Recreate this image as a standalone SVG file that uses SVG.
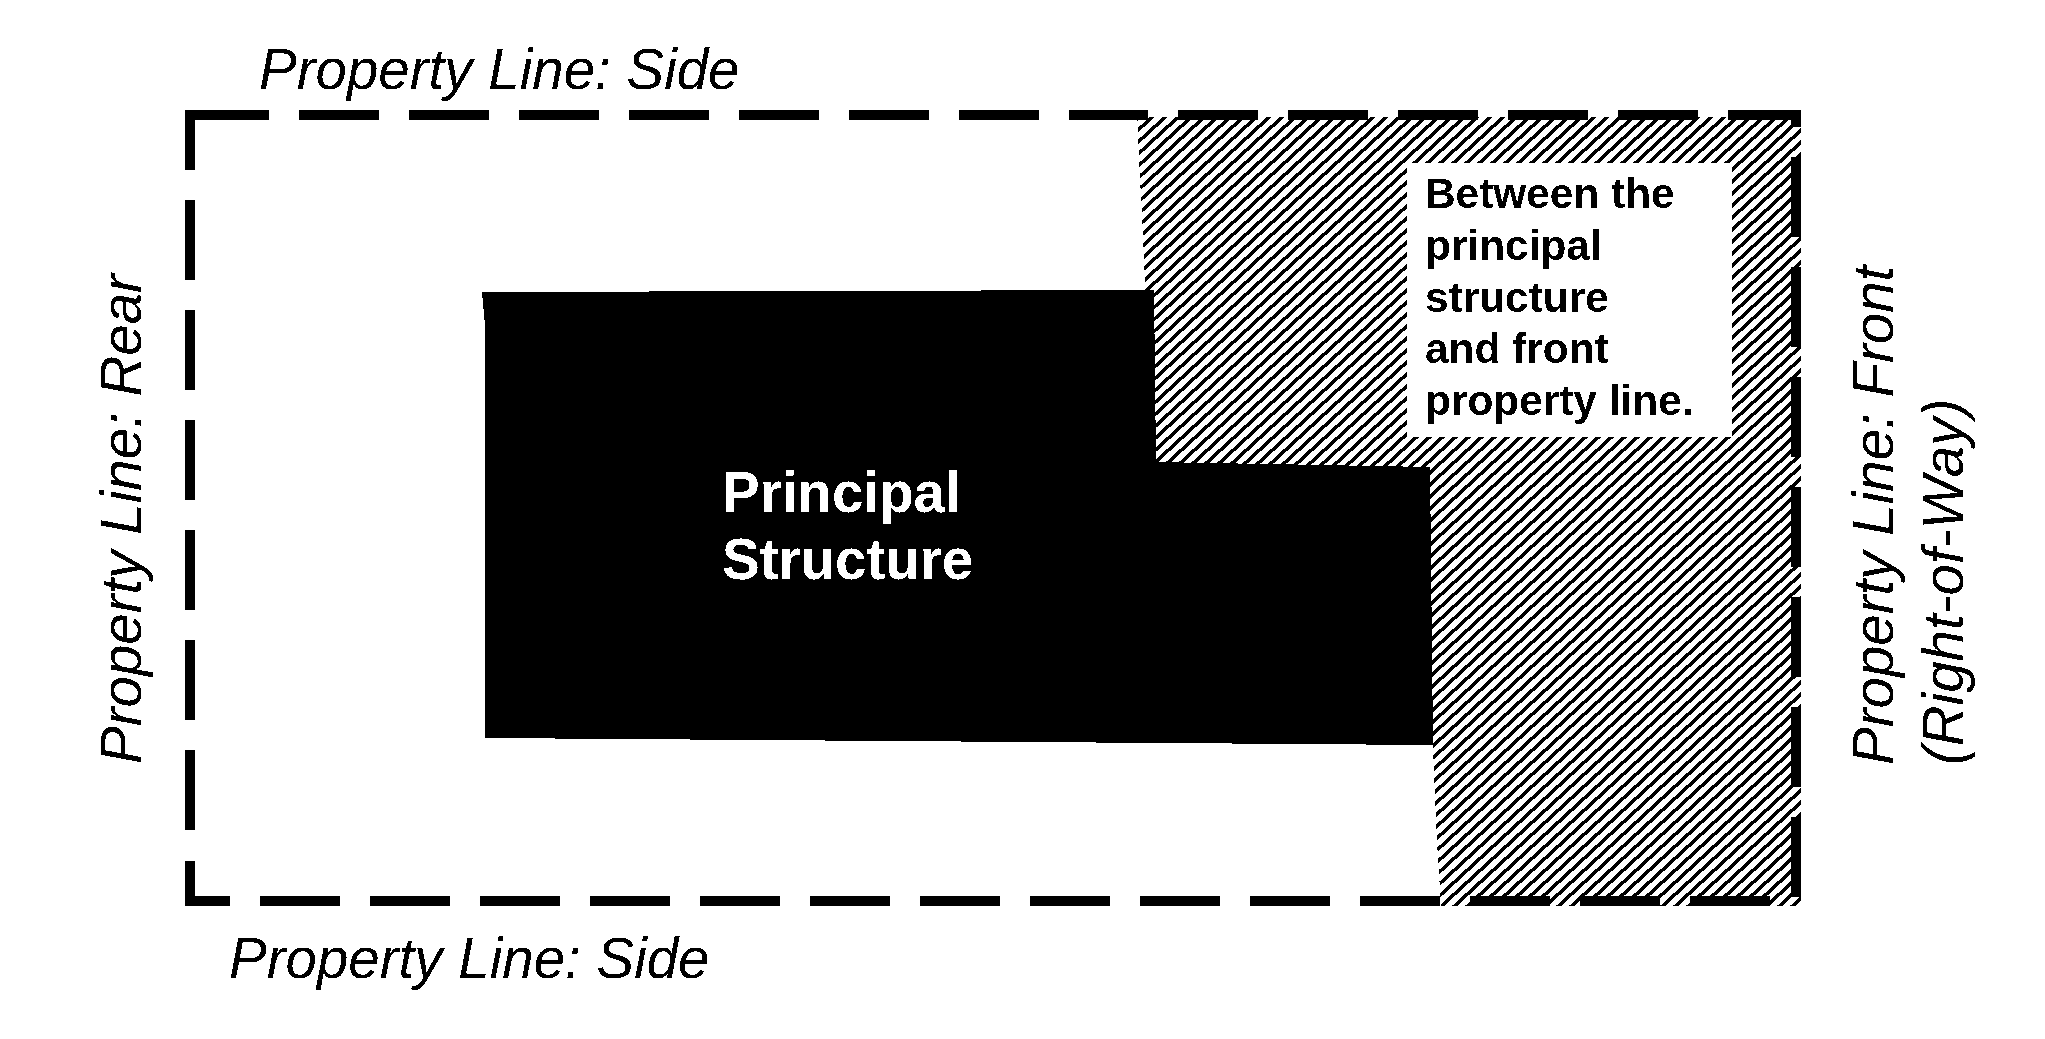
<svg xmlns="http://www.w3.org/2000/svg" width="2045" height="1039" viewBox="0 0 2045 1039">
  <style>
    .shape { shape-rendering: crispEdges; }
    .line { fill: none; stroke: #000; stroke-width: 10; shape-rendering: crispEdges; }
    .lbl { font-family: "Liberation Sans", Arial, sans-serif; font-size: 56.5px; font-style: italic; fill: #000; filter: url(#bin); }
    .bold { font-family: "Liberation Sans", Arial, sans-serif; font-weight: bold; filter: url(#bin); }
  </style>
  <defs>
    <pattern id="hatch" x="5" y="0" width="13" height="12" patternUnits="userSpaceOnUse">
      <path d="M-6.5,6 L6.5,-6 M-6.5,18 L19.5,-6 M6.5,18 L19.5,6" stroke="#000" stroke-width="3.5" fill="none" shape-rendering="crispEdges"/>
    </pattern>
    <filter id="bin" x="-5%" y="-20%" width="110%" height="140%" color-interpolation-filters="sRGB">
      <feComponentTransfer><feFuncA type="discrete" tableValues="0 1"/></feComponentTransfer>
    </filter>
  </defs>
  <rect width="2045" height="1039" fill="#fff"/>
  <g id="front-yard-area">
    <polygon class="shape" fill="url(#hatch)" points="1137,117 1801,117 1801,906 1441,906 1436,825 1433,745 1430,467 1156,462 1146,300"/>
  </g>
  <g id="principal-structure">
    <polygon class="shape" fill="#000" points="482,292 1154,290 1156,462 1430,467 1433,745 485,738 485,325"/>
    <text class="bold" fill="#fff" font-size="56.5" x="722" y="512">Principal</text>
    <text class="bold" fill="#fff" font-size="56.5" x="722" y="579">Structure</text>
  </g>
  <g id="front-yard-note">
    <rect class="shape" fill="#fff" x="1407" y="163" width="325" height="274"/>
    <text class="bold" fill="#000" font-size="42.4" x="1425" y="208">Between the</text>
    <text class="bold" fill="#000" font-size="42.4" x="1425" y="260">principal</text>
    <text class="bold" fill="#000" font-size="42.4" x="1425" y="312">structure</text>
    <text class="bold" fill="#000" font-size="42.4" x="1425" y="363">and front</text>
    <text class="bold" fill="#000" font-size="42.4" x="1425" y="415">property line.</text>
  </g>
  <g id="property-lines">
    <path id="line-side-top" class="line" d="M190,170 V115 H269 M299,115 H379 M409,115 H489 M519,115 H599 M629,115 H709 M739,115 H819 M849,115 H929 M959,115 H1039 M1069,115 H1148 M1178,115 H1258 M1288,115 H1368 M1398,115 H1478 M1508,115 H1588 M1618,115 H1698 M1728,115 H1796 V127"/>
    <path id="line-rear" class="line" d="M190,200 V280 M190,310 V390 M190,420 V500 M190,530 V610 M190,640 V720 M190,750 V830"/>
    <path id="line-side-bottom" class="line" d="M190,861 V901 H230 M260,901 H340 M370,901 H450 M480,901 H560 M590,901 H670 M700,901 H780 M810,901 H890 M920,901 H1000 M1030,901 H1110 M1140,901 H1220 M1250,901 H1330 M1360,901 H1440 M1470,901 H1550 M1580,901 H1660 M1690,901 H1770"/>
    <path id="line-front" class="line" d="M1796,157 V237 M1796,267 V347 M1796,377 V457 M1796,487 V567 M1796,597 V677 M1796,707 V787 M1796,817 V897"/>
  </g>
  <g id="labels">
    <text class="lbl" x="259" y="89">Property Line: Side</text>
    <text class="lbl" x="229" y="978">Property Line: Side</text>
    <text class="lbl" transform="translate(141,764) rotate(-90)">Property Line: Rear</text>
    <text class="lbl" transform="translate(1893,765) rotate(-90)">Property Line: Front</text>
    <text class="lbl" transform="translate(1963,765) rotate(-90)">(Right-of-Way)</text>
  </g>
</svg>
